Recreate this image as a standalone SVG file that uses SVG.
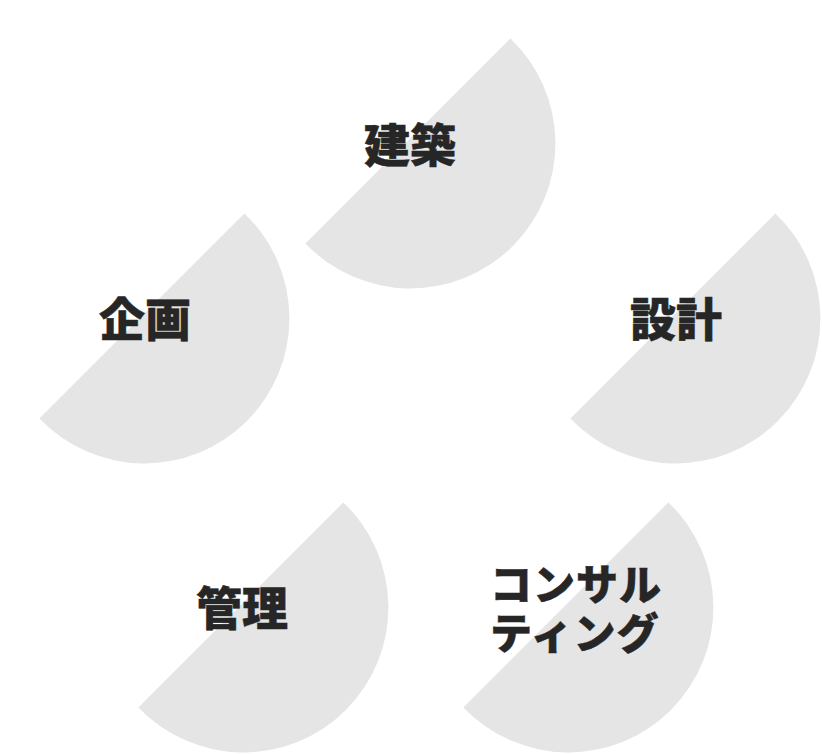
<svg xmlns="http://www.w3.org/2000/svg" width="822" height="754" viewBox="0 0 822 754">
  <style>
    .seg { fill: #e5e5e5; }
    .lbl { font-family: "Noto Sans CJK JP", "Noto Sans CJK SC", sans-serif; font-weight: 900; font-size: 46px; fill: #262626; stroke: #262626; stroke-width: 0.5px; text-anchor: middle; dominant-baseline: central; }
    .kata { font-size: 42px; letter-spacing: 1px; text-anchor: start; }
  </style>
  <defs>
    <path id="seg" d="M -104.6 100.4 L 100.4 -104.6 A 145 145 0 1 1 -104.6 100.4 Z"/>
  </defs>
  <rect width="822" height="754" fill="#ffffff"/>
  <g id="connectors"></g>
  <g id="node-kenchiku">
    <use href="#seg" class="seg" transform="translate(410,143)"/>
    <text class="lbl" x="410" y="141.5">建築</text>
  </g>
  <g id="node-kikaku">
    <use href="#seg" class="seg" transform="translate(144,318)"/>
    <text class="lbl" x="145" y="316">企画</text>
  </g>
  <g id="node-sekkei">
    <use href="#seg" class="seg" transform="translate(675,318)"/>
    <text class="lbl" x="676" y="316">設計</text>
  </g>
  <g id="node-kanri">
    <use href="#seg" class="seg" transform="translate(243,607)"/>
    <text class="lbl" x="242" y="605">管理</text>
  </g>
  <g id="node-consulting">
    <use href="#seg" class="seg" transform="translate(568,607)"/>
    <text class="lbl kata"><tspan x="490" y="581">コンサル</tspan><tspan x="490" y="630">ティング</tspan></text>
  </g>
</svg>
